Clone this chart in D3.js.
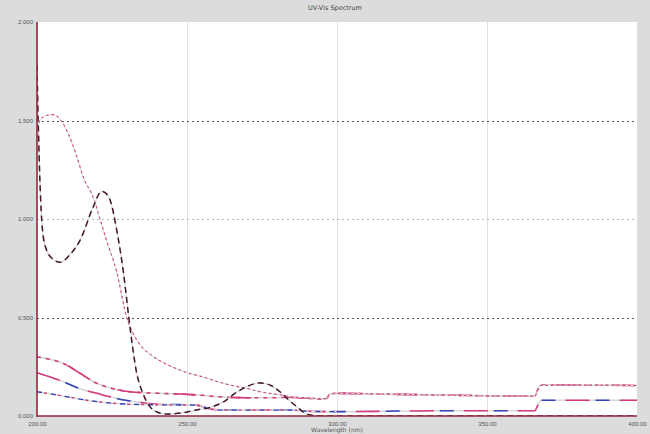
<!DOCTYPE html>
<html>
<head>
<meta charset="utf-8">
<script src="https://cdn.jsdelivr.net/npm/d3@7"></script>
<style>
  html, body { margin: 0; padding: 0; background: #dcdcdc; }
  svg { display: block; font-family: "DejaVu Sans", sans-serif; }
</style>
</head>
<body>
<svg id="chart" width="650" height="434"></svg>
<script>
// Spectral scans: wavelength (nm) against absorbance
const titleText = "UV-Vis Spectrum";
const xAxisTitle = "Wavelength (nm)";
const xTicks = [200, 250, 300, 350, 400];
const yTicks = [0, 0.5, 1.0, 1.5, 2.0];

const scanDarkWl = [200, 200.4, 201, 201.8, 203, 205, 207.7, 211, 214.3, 218.7, 221.5, 223, 224.5, 226.5, 228.8, 231, 233.2, 235.3, 237.5, 240, 243, 248, 253, 258, 262, 266.5, 270, 274.3, 278, 281, 284, 286.6, 289, 291, 296, 300, 330, 366, 400];
const scanDarkAbs = [1.78, 1.50, 1.18, 0.95, 0.85, 0.80, 0.78, 0.82, 0.89, 1.06, 1.14, 1.13, 1.09, 0.95, 0.73, 0.45, 0.22, 0.115, 0.05, 0.02, 0.01, 0.015, 0.03, 0.045, 0.07, 0.12, 0.15, 0.168, 0.155, 0.123, 0.08, 0.047, 0.018, 0.005, 0.0, 0.0, 0.0, 0.0, 0.0];

const scanPinkWl = [200, 201, 203, 205.5, 208, 210.5, 213, 215.5, 219, 221, 223.2, 226.6, 229.9, 232, 235, 238, 241, 245, 250, 255, 260, 265, 270, 274.3, 280, 284.3, 290, 295, 296.7, 297.5, 300, 320, 340, 366, 366.8, 368, 380, 400];
const scanPinkAbs = [1.46, 1.50, 1.525, 1.53, 1.50, 1.43, 1.33, 1.21, 1.10, 1.00, 0.89, 0.73, 0.50, 0.42, 0.35, 0.31, 0.28, 0.25, 0.22, 0.20, 0.175, 0.155, 0.14, 0.123, 0.11, 0.098, 0.092, 0.088, 0.09, 0.11, 0.115, 0.11, 0.105, 0.10, 0.13, 0.155, 0.157, 0.155];

const scanAWl = [200, 205, 208.8, 214, 219.9, 225, 231, 241, 250, 255, 260, 270, 280, 284, 290, 295.3, 296.7, 297.5, 300, 320, 340, 366, 366.8, 368, 400];
const scanAAbs = [0.30, 0.285, 0.267, 0.22, 0.166, 0.14, 0.123, 0.115, 0.11, 0.105, 0.098, 0.093, 0.093, 0.095, 0.09, 0.086, 0.09, 0.113, 0.115, 0.11, 0.105, 0.10, 0.13, 0.157, 0.155];

const scanBWl = [200, 204, 208.8, 214, 220, 225, 229, 235, 240, 253, 258, 262, 285, 290, 300, 320, 340, 366, 366.8, 368, 400];
const scanBAbs = [0.22, 0.20, 0.174, 0.14, 0.115, 0.095, 0.081, 0.068, 0.06, 0.055, 0.035, 0.03, 0.03, 0.024, 0.022, 0.025, 0.027, 0.027, 0.05, 0.08, 0.08];

const scanBlueWl = [200, 206.6, 211, 216.6, 225, 235, 253, 258, 262, 285, 290, 300];
const scanBlueAbs = [0.123, 0.107, 0.095, 0.08, 0.065, 0.058, 0.055, 0.035, 0.03, 0.03, 0.024, 0.022];

const svg = d3.select("#chart");
const W = 650, H = 434;
const plot = { left: 37, right: 637, top: 22, bottom: 416 };

const x = d3.scaleLinear().domain([200, 400]).range([plot.left, plot.right]);
const y = d3.scaleLinear().domain([0, 2]).range([plot.bottom, plot.top]);

svg.append("rect").attr("width", W).attr("height", H).attr("fill", "#dcdcdc");
svg.append("rect")
  .attr("x", plot.left).attr("y", plot.top)
  .attr("width", plot.right - plot.left).attr("height", plot.bottom - plot.top)
  .attr("fill", "#ffffff");

// vertical grid
svg.append("g").selectAll("line")
  .data(xTicks.filter(d => d > 200 && d < 400))
  .join("line")
  .attr("x1", d => x(d) + 0.5).attr("x2", d => x(d) + 0.5)
  .attr("y1", plot.top).attr("y2", plot.bottom)
  .attr("stroke", "#e0e0e0").attr("stroke-width", 1);

// horizontal grid
svg.append("g").selectAll("line")
  .data(yTicks.filter(d => d > 0 && d < 2))
  .join("line")
  .attr("x1", plot.left).attr("x2", plot.right)
  .attr("y1", d => Math.round(y(d)) + 0.5).attr("y2", d => Math.round(y(d)) + 0.5)
  .attr("stroke", d => d === 1.0 ? "#b8b8b8" : "#555555")
  .attr("stroke-width", 1)
  .attr("stroke-dasharray", "2,3");

const line = d3.line().x(d => x(d[0])).y(d => y(d[1])).curve(d3.curveMonotoneX);
const pairs = (wl, ab) => wl.map((w, i) => [w, ab[i]]);

svg.append("clipPath").attr("id", "plotclip").append("rect")
  .attr("x", plot.left).attr("y", plot.top - 4)
  .attr("width", plot.right - plot.left).attr("height", plot.bottom - plot.top + 4);

const traces = svg.append("g").attr("clip-path", "url(#plotclip)");

function trace(wl, ab, base, dashes) {
  const d = line(pairs(wl, ab));
  traces.append("path").attr("d", d).attr("fill", "none")
    .attr("stroke", "#d8d8d8").attr("stroke-width", base);
  dashes.forEach(s => {
    traces.append("path").attr("d", d).attr("fill", "none")
      .attr("stroke", s.color).attr("stroke-width", s.width)
      .attr("stroke-dasharray", s.dash).attr("stroke-dashoffset", s.offset || 0);
  });
}

trace(scanBWl, scanBAbs, 1.6, [
  { color: "#d43a7c", width: 1.6, dash: "24,30" },
  { color: "#3444b8", width: 1.6, dash: "14,40", offset: -30 }
]);
trace(scanBlueWl, scanBlueAbs, 1.4, [
  { color: "#3444b8", width: 1.4, dash: "5,9" },
  { color: "#d43a7c", width: 1.4, dash: "3,11", offset: -7 }
]);
trace(scanAWl, scanAAbs, 1.6, [
  { color: "#d43a7c", width: 1.6, dash: "4,5" },
  { color: "#d43a7c", width: 1.6, dash: "22,34", offset: -200 }
]);
trace(scanPinkWl, scanPinkAbs, 1.0, [
  { color: "#d0447e", width: 1.1, dash: "2.5,3" }
]);
trace(scanDarkWl, scanDarkAbs, 1.2, [
  { color: "#421428", width: 1.5, dash: "6,4" }
]);

// axes
const axisColor = "#8e2a3c";
svg.append("line").attr("x1", plot.left).attr("x2", plot.left)
  .attr("y1", plot.top).attr("y2", plot.bottom + 1)
  .attr("stroke", axisColor).attr("stroke-width", 1.6);
svg.append("line").attr("x1", plot.left).attr("x2", plot.right)
  .attr("y1", plot.bottom).attr("y2", plot.bottom)
  .attr("stroke", axisColor).attr("stroke-width", 1.6);

const yAxis = d3.axisLeft(y).tickValues(yTicks).tickSize(0).tickPadding(4)
  .tickFormat(d3.format(".3f"));
const gy = svg.append("g").attr("transform", `translate(${plot.left},0)`).call(yAxis);
gy.select(".domain").remove();
gy.selectAll("text").attr("font-size", 6).attr("fill", "#555");

const xAxis = d3.axisBottom(x).tickValues(xTicks).tickSize(0).tickPadding(6)
  .tickFormat(d3.format(".2f"));
const gx = svg.append("g").attr("transform", `translate(0,${plot.bottom})`).call(xAxis);
gx.select(".domain").remove();
gx.selectAll("text").attr("font-size", 6).attr("fill", "#555");

svg.append("text").attr("x", (plot.left + plot.right) / 2).attr("y", 432)
  .attr("text-anchor", "middle").attr("font-size", 6).attr("fill", "#555")
  .text(xAxisTitle);

svg.append("text").attr("x", 335).attr("y", 10)
  .attr("text-anchor", "middle").attr("font-size", 6.5).attr("fill", "#444")
  .text(titleText);
</script>
</body>
</html>
